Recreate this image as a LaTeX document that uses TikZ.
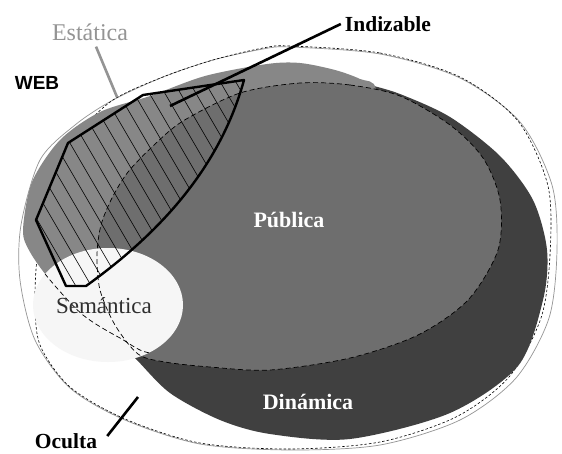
\documentclass[tikz,border=0pt]{standalone}
\usepackage{fontspec}
\setmainfont{Liberation Serif}
\newfontfamily\websans{Liberation Sans}
\definecolor{estgray}{gray}{0.53}
\definecolor{pubgray}{gray}{0.43}
\definecolor{dingray}{gray}{0.25}
\definecolor{semgray}{gray}{0.965}
\definecolor{linegray}{gray}{0.58}
\tikzstyle{webtext} = [inner sep=0pt, font=\fontsize{23}{25}\selectfont]
\tikzstyle{boldtext} = [inner sep=0pt, font=\bfseries\fontsize{21.5}{24}\selectfont]
\tikzstyle{pointer} = [line width=2.6pt]
\tikzstyle{border} = [line width=0.7pt, draw=linegray]
\tikzstyle{dashborder} = [line width=0.6pt, dash pattern=on 2.5pt off 2pt]
\tikzstyle{regionedge} = [line width=0.7pt, dash pattern=on 5pt off 3pt]
\tikzstyle{hatchline} = [line width=0.6pt]
\begin{document}
\begin{tikzpicture}[x=1pt,y=-1pt]
\useasboundingbox (0,0) rectangle (562,453);
\fill[white] (0,0) rectangle (562,453);

\draw[border] plot[smooth cycle] coordinates {(290,47) (380,54) (460,78) (520,122) (552,185) (557,250) (549,318) (516,378) (460,420) (380,445) (290,450) (200,444) (125,420) (70,388) (35,340) (20,280) (21,225) (40,160) (75,125) (113,100) (163,77) (213,60) (263,49)};
\draw[dashborder] plot[smooth cycle] coordinates {(290,46) (380,53) (460,77) (518,121) (548,186) (550,255) (541,318) (509,377) (456,417) (380,442) (290,449) (200,443) (125,419) (70,387) (40,345) (35,300) (38,250) (50,190) (78,135) (113,100) (163,77) (213,60) (263,48)};

\fill[dingray] plot[smooth cycle] coordinates {(28,230) (37,183) (64,143) (103,116) (152,100) (207,80) (267,68) (305,67) (340,75) (367,84) (400,94) (450,117) (500,156) (533,200) (547,250) (543,300) (518,366) (450,413) (350,439) (270,434) (220,420) (170,393) (135,358) (95,318) (55,276) (35,255)};
\fill[estgray] plot[smooth cycle] coordinates {(23,230) (32,182) (60,140) (100,112) (150,96) (205,76) (267,64) (300,63) (335,70) (360,79) (376,90) (370,160) (300,270) (210,335) (153,353) (120,338) (83,315) (50,280) (30,252)};
\fill[pubgray] plot[smooth cycle] coordinates {(300,83) (350,85) (400,96) (450,125) (483,158) (500,200) (498,250) (468,300) (418,335) (350,358) (270,370) (210,367) (165,362) (138,354) (115,325) (100,290) (97,255) (101,225) (112,198) (128,172) (153,146) (183,121) (240,93)};
\fill[semgray] (108,305) ellipse [x radius=75pt, y radius=57pt];

\begin{scope}
\clip (108,305) ellipse [x radius=75pt, y radius=57pt];
\draw[regionedge] plot[smooth cycle] coordinates {(23,230) (32,182) (60,140) (100,112) (150,96) (205,76) (267,64) (300,63) (335,70) (360,79) (376,90) (370,160) (300,270) (210,335) (153,353) (120,338) (83,315) (50,280) (30,252)};
\end{scope}
\draw[regionedge] plot[smooth cycle] coordinates {(300,83) (350,85) (400,96) (450,125) (483,158) (500,200) (498,250) (468,300) (418,335) (350,358) (270,370) (210,367) (165,362) (138,354) (115,325) (100,290) (97,255) (101,225) (112,198) (128,172) (153,146) (183,121) (240,93)};

\begin{scope}
\clip (244,80) -- (143,95) -- (68,143) -- (36,220) -- (66,286) -- (86,286) .. controls (150,240) and (218,175) .. (244,80) -- cycle;
\foreach \x in {-180,-164.5,...,280}
  \draw[hatchline] (\x,60) -- ({\x+140},300);
\end{scope}
\draw[line width=2.4pt, line join=round] (244,80) -- (143,95) -- (68,143) -- (36,220) -- (66,286) -- (86,286) .. controls (150,240) and (218,175) .. (244,80) -- cycle;

\node[inner sep=0pt, font={\websans\bfseries\fontsize{19}{20}\selectfont}] (web) at (37,83) {WEB};
\node[webtext, text=linegray, font=\fontsize{24}{26}\selectfont] (est) at (90,32) {Estática};
\node[boldtext] (ind) at (388,24) {Indizable};
\node[boldtext, text=white, font=\bfseries\fontsize{22}{24}\selectfont] (pub) at (289,220) {Pública};
\node[webtext, text=black!82] (sem) at (104,306) {Semántica};
\node[boldtext, text=white, font=\bfseries\fontsize{22}{24}\selectfont] (din) at (308,402) {Dinámica};
\node[boldtext] (ocu) at (66,441) {Oculta};

\coordinate (indtip) at (170,106);
\coordinate (esttip) at (117,97);
\coordinate (ocutip) at (138,397);
\draw[pointer] ([xshift=-4pt]ind.west) -- (indtip);
\draw[pointer, draw=linegray] ([xshift=6pt,yshift=-6pt]est.south) -- (esttip);
\draw[pointer] ([xshift=10pt,yshift=5pt]ocu.east) -- (ocutip);

\end{tikzpicture}
\end{document}
